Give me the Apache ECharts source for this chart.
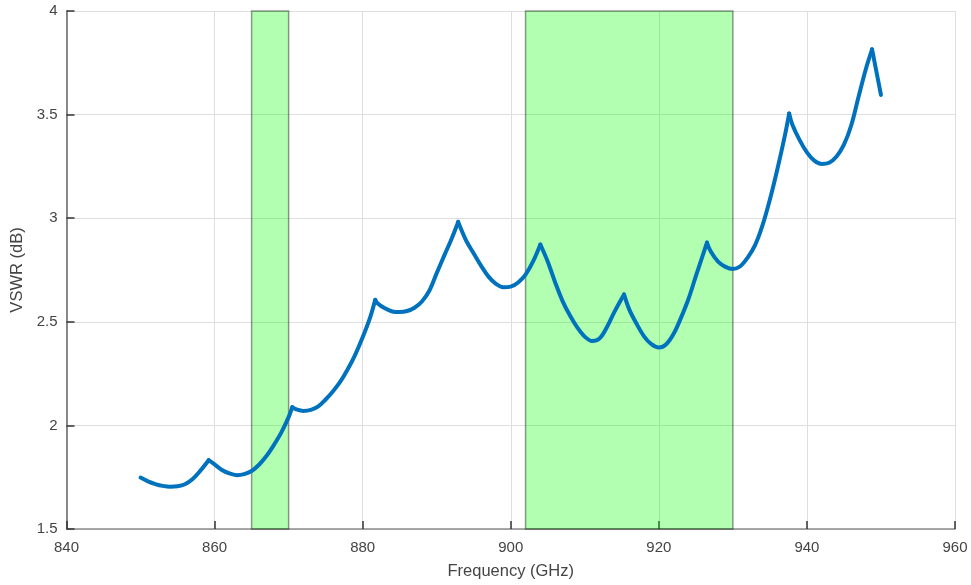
<!DOCTYPE html>
<html>
<head>
<meta charset="utf-8">
<script src="https://cdn.jsdelivr.net/npm/echarts@6/dist/echarts.min.js"></script>
<style>
  html, body { margin: 0; padding: 0; background: #ffffff; }
  #chart { width: 971px; height: 585px; }
</style>
</head>
<body>
<div id="chart"></div>
<script>
// Frequency sweep (GHz) and measured VSWR
const freq = [
  850.0, 851.0, 852.0, 853.0, 854.0, 855.0, 856.0, 857.0, 858.0, 859.2,
  860.0, 861.0, 862.0, 863.0, 864.0, 865.0, 866.0, 867.0, 868.0, 869.0,
  870.0, 870.5, 871.0, 872.0, 873.0, 874.0, 875.0, 876.0, 877.0, 878.0,
  879.0, 880.0, 881.0, 881.7, 882.0, 883.0, 884.0, 885.0, 886.0, 887.0,
  888.0, 889.0, 890.0, 891.0, 892.0, 892.9, 893.5, 894.0, 895.0, 896.0,
  897.0, 898.0, 899.0, 900.0, 901.0, 902.0, 903.0, 904.0, 905.0, 906.0,
  907.0, 908.0, 909.0, 910.0, 911.0, 912.0, 913.0, 914.0, 915.3, 916.0,
  917.0, 918.0, 919.0, 920.0, 921.0, 922.0, 923.0, 924.0, 925.0, 926.5,
  927.0, 928.0, 929.0, 930.0, 931.0, 932.0, 933.0, 934.0, 935.0, 936.0,
  937.0, 937.6, 938.0, 939.0, 940.0, 941.0, 942.0, 943.0, 944.0, 945.0,
  946.0, 947.0, 948.0, 948.8, 950.0
];
const vswr = [
  1.748, 1.730, 1.717, 1.708, 1.704, 1.706, 1.716, 1.740, 1.778, 1.832,
  1.812, 1.785, 1.768, 1.760, 1.765, 1.780, 1.810, 1.852, 1.905, 1.965,
  2.040, 2.088, 2.078, 2.070, 2.075, 2.092, 2.125, 2.165, 2.212, 2.272,
  2.342, 2.425, 2.520, 2.606, 2.590, 2.565, 2.550, 2.547, 2.552, 2.568,
  2.598, 2.650, 2.735, 2.818, 2.900, 2.982, 2.930, 2.890, 2.830, 2.770,
  2.718, 2.683, 2.667, 2.670, 2.690, 2.728, 2.790, 2.873, 2.790, 2.690,
  2.600, 2.530, 2.472, 2.428, 2.407, 2.420, 2.475, 2.548, 2.632, 2.560,
  2.490, 2.430, 2.392, 2.376, 2.392, 2.442, 2.520, 2.610, 2.720, 2.882,
  2.840, 2.790, 2.765, 2.755, 2.768, 2.810, 2.870, 2.965, 3.090, 3.235,
  3.395, 3.505, 3.455, 3.378, 3.318, 3.278, 3.262, 3.268, 3.298, 3.355,
  3.450, 3.590, 3.725, 3.815, 3.595
];

// Resonance peaks where the curve turns sharply (GHz)
const cuspFreqs = [859.2, 870.5, 881.7, 892.9, 904.0, 915.3, 926.5, 937.6, 948.8];

// Highlighted frequency bands (GHz)
const bandStarts = [865, 902];
const bandEnds = [870, 930];

// Axis ranges and tick spacing
const xRange = [840, 960];
const xStep = 20;
const yRange = [1.5, 4];
const yStep = 0.5;

const points = freq.map((f, i) => [f, vswr[i]]);
const bands = bandStarts.map((s, i) => [{ xAxis: s }, { xAxis: bandEnds[i] }]);

// Split the sweep at each peak so the arcs stay smooth while the peaks stay sharp
const segments = [];
let current = [];
points.forEach((p) => {
  current.push(p);
  if (cuspFreqs.indexOf(p[0]) >= 0) {
    segments.push(current);
    current = [p];
  }
});
if (current.length > 1) segments.push(current);

const lineColor = '#0072bd';
const textColor = '#444444';
const fontFamily = '"Liberation Sans", Arial, Helvetica, sans-serif';

const series = segments.map((seg) => ({
  type: 'line',
  data: seg,
  showSymbol: false,
  symbol: 'none',
  smooth: 0.35,
  lineStyle: { color: lineColor, width: 4, cap: 'round', join: 'round' },
  z: 5
}));

// Shaded bands live on an empty helper series beneath the curve
series.unshift({
  type: 'line',
  data: [],
  z: 3,
  markArea: {
    silent: true,
    itemStyle: {
      color: 'rgba(0, 255, 0, 0.3)',
      borderColor: 'rgba(0, 0, 0, 0.4)',
      borderWidth: 1.5
    },
    data: bands
  }
});

const chart = echarts.init(document.getElementById('chart'), null, { renderer: 'canvas' });
chart.setOption({
  animation: false,
  backgroundColor: '#ffffff',
  grid: { left: 66.5, right: 16, top: 11, bottom: 55, containLabel: false },
  xAxis: {
    type: 'value',
    min: xRange[0], max: xRange[1], interval: xStep,
    name: 'Frequency (GHz)',
    nameLocation: 'middle',
    nameGap: 34,
    nameTextStyle: { color: textColor, fontSize: 16.5, fontFamily },
    axisLine: { show: true, lineStyle: { color: '#8c8c8c', width: 1.5 } },
    axisTick: { show: true, inside: true, length: 8, lineStyle: { color: '#333333', width: 1.5 } },
    axisLabel: { color: textColor, fontSize: 15, fontFamily, margin: 11 },
    splitLine: { show: true, lineStyle: { color: '#dedede', width: 1 } }
  },
  yAxis: {
    type: 'value',
    min: yRange[0], max: yRange[1], interval: yStep,
    name: 'VSWR (dB)',
    nameLocation: 'middle',
    nameGap: 40,
    nameTextStyle: { color: textColor, fontSize: 16.5, fontFamily },
    axisLine: { show: true, lineStyle: { color: '#666666', width: 1.5 } },
    axisTick: { show: true, inside: true, length: 8, lineStyle: { color: '#333333', width: 1.5 } },
    axisLabel: { color: textColor, fontSize: 15, fontFamily, margin: 9 },
    splitLine: { show: true, lineStyle: { color: '#dedede', width: 1 } }
  },
  series: series
});
</script>
</body>
</html>
